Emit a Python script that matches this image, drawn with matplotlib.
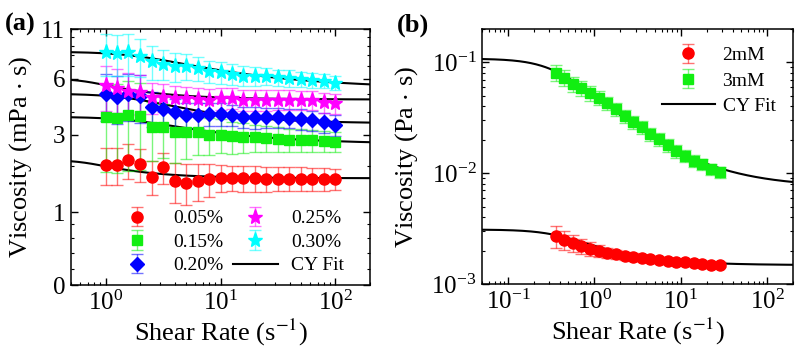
"""Viscosity vs shear rate, two panels with CY fits."""

import numpy as np
import matplotlib
matplotlib.use('Agg')
import matplotlib.pyplot as plt
from matplotlib.ticker import FixedLocator, FixedFormatter, NullFormatter
from matplotlib import rcParams

rcParams['font.family'] = 'serif'
rcParams['font.serif'] = ['Liberation Serif', 'DejaVu Serif']
rcParams['mathtext.fontset'] = 'stix'
rcParams['xtick.direction'] = 'in'
rcParams['ytick.direction'] = 'in'
rcParams['xtick.top'] = True
rcParams['ytick.right'] = True
rcParams['axes.linewidth'] = 1.1

# ---- panel (a) data ----
rate_a = [1.0, 1.26, 1.58, 2.0, 2.51, 3.16, 3.98, 5.01, 6.31, 7.94, 10.0,
          12.6, 15.8, 20.0, 25.1, 31.6, 39.8, 50.1, 63.1, 79.4, 100.0]
conc_labels = ['0.05%', '0.15%', '0.20%', '0.25%', '0.30%']
visc_005 = [2.02, 2.02, 2.15, 2.05, 1.72, 1.95, 1.62, 1.58, 1.62, 1.66, 1.69,
            1.69, 1.68, 1.68, 1.67, 1.67, 1.67, 1.67, 1.67, 1.66, 1.66]
visc_015 = [3.72, 3.70, 3.86, 3.78, 3.32, 3.32, 3.08, 3.08, 3.10, 3.00, 3.00,
            2.93, 2.92, 2.90, 2.87, 2.84, 2.81, 2.80, 2.79, 2.77, 2.74]
visc_020 = [4.95, 4.82, 4.95, 4.85, 4.22, 4.13, 3.96, 3.86, 3.86, 3.90, 3.90,
            3.85, 3.75, 3.72, 3.72, 3.72, 3.70, 3.65, 3.60, 3.50, 3.40]
visc_025 = [5.53, 5.33, 5.14, 5.08, 4.80, 4.80, 4.72, 4.72, 4.68, 4.65, 4.72,
            4.75, 4.62, 4.65, 4.65, 4.65, 4.65, 4.62, 4.62, 4.50, 4.44]
visc_030 = [8.30, 8.18, 8.30, 7.90, 7.43, 7.20, 7.00, 7.00, 6.85, 6.57, 6.50,
            6.37, 6.24, 6.20, 6.18, 6.10, 6.05, 5.97, 5.90, 5.85, 5.72]
err_005 = [0.50, 0.50, 0.50, 0.45, 0.40, 0.40, 0.45, 0.45, 0.42, 0.38, 0.32,
           0.30, 0.30, 0.30, 0.30, 0.28, 0.28, 0.28, 0.27, 0.27, 0.25]
err_015 = [1.90, 1.90, 2.00, 1.90, 1.20, 1.10, 1.00, 0.90, 0.80, 0.70, 0.65,
           0.60, 0.55, 0.50, 0.48, 0.45, 0.42, 0.40, 0.38, 0.36, 0.34]
err_020 = [1.40, 1.40, 1.40, 1.40, 0.90, 0.80, 0.70, 0.60, 0.60, 0.55, 0.55,
           0.50, 0.50, 0.50, 0.48, 0.48, 0.46, 0.46, 0.45, 0.45, 0.45]
err_025 = [1.50, 1.40, 1.30, 1.20, 0.90, 0.80, 0.75, 0.70, 0.70, 0.65, 0.65,
           0.62, 0.60, 0.60, 0.60, 0.58, 0.58, 0.56, 0.55, 0.55, 0.55]
err_030 = [2.10, 2.00, 2.10, 1.80, 1.50, 1.30, 1.20, 1.10, 1.00, 0.90, 0.85,
           0.80, 0.75, 0.70, 0.65, 0.60, 0.60, 0.55, 0.55, 0.50, 0.50]
# CY fit parameters per concentration: eta0, eta_inf, lambda, a, n
cy_a = [(2.15, 1.68, 1.5, 4.0, 0.0),
        (3.75, 2.65, 0.5, 2.0, 0.4),
        (5.00, 3.45, 0.5, 2.0, 0.2),
        (6.00, 4.65, 1.5, 4.0, 0.1),
        (8.35, 5.30, 0.5, 2.0, 0.5)]

# ---- panel (b) data ----
rate_b = [0.355, 0.447, 0.562, 0.708, 0.891, 1.12, 1.41, 1.78, 2.24, 2.82,
          3.55, 4.47, 5.62, 7.08, 8.91, 11.2, 14.1, 17.8, 22.4, 28.2]
visc_2mm = [0.00273, 0.00251, 0.00236, 0.00222, 0.00208, 0.00199, 0.00191,
            0.00185, 0.00180, 0.00176, 0.00172, 0.00169, 0.00164, 0.00160,
            0.00158, 0.00157, 0.00155, 0.00152, 0.00150, 0.00150]
visc_3mm = [0.081, 0.073, 0.064, 0.059, 0.053, 0.048, 0.043, 0.038, 0.033,
            0.029, 0.026, 0.0226, 0.0204, 0.0180, 0.0158, 0.0143, 0.0129,
            0.0121, 0.0109, 0.0102]
err_2mm = [0.0006, 0.0005, 0.0004, 0.00035, 0.0003, 0.00025, 0.0002, 0.00018,
           0.00015, 0.00013, 0.00012, 0.0001, 0.0001, 0.00009, 0.00009,
           0.00008, 0.00008, 0.00008, 0.00007, 0.00007]
err_3mm = [0.013, 0.012, 0.010, 0.009, 0.008, 0.007, 0.006, 0.005, 0.0045,
           0.004, 0.0035, 0.003, 0.0027, 0.0024, 0.002, 0.0018, 0.0016,
           0.0014, 0.0012, 0.0011]
cy_2mm = (0.0031, 0.00148, 2.5, 2.0, 0.2)
cy_3mm = (0.108, 0.0075, 3.0, 2.0, 0.25)


def carreau_yasuda(g, eta0, einf, lam, a, n):
    return einf + (eta0 - einf) * (1 + (lam * g) ** a) ** ((n - 1) / a)


fig = plt.figure(figsize=(7.97, 3.56), dpi=100)
axa = fig.add_axes([0.0891, 0.1994, 0.3752, 0.719])
axb = fig.add_axes([0.6048, 0.2022, 0.3902, 0.7163])

colors_a = ['#ff0000', '#11ee11', '#0000ff', '#ff00ff', '#00ffff']
markers_a = ['o', 's', 'D', '*', '*']
msizes_a = [8, 7, 7, 11, 11]
series_a = [visc_005, visc_015, visc_020, visc_025, visc_030]
errs_a = [err_005, err_015, err_020, err_025, err_030]

# ---- panel (a) ----
axa.set_xscale('log')
axa.set_yscale('asinh', linear_width=1.0)
axa.set_xlim(0.5, 200)
axa.set_ylim(0, 11)
gfit = np.logspace(np.log10(0.5), np.log10(200), 300)

handles = []
for vals, errs, c, m, ms, lab in zip(series_a, errs_a, colors_a, markers_a,
                                      msizes_a, conc_labels):
    h = axa.errorbar(rate_a, vals, yerr=errs, fmt=m, color=c, ms=ms,
                     mec=c, ecolor=c, elinewidth=1.0, capsize=4, capthick=1.0,
                     label=lab, zorder=4)
    for art in h[1] + h[2]:
        art.set_alpha(0.55)
    handles.append(h)
fit_line = None
for p in cy_a:
    fit_line, = axa.plot(gfit, carreau_yasuda(gfit, *p), color='black', lw=1.5,
                         zorder=3, label='CY Fit')

axa.yaxis.set_major_locator(FixedLocator([0, 1, 3, 6, 11]))
axa.yaxis.set_major_formatter(FixedFormatter(['0', '1', '3', '6', '11']))
axa.yaxis.set_minor_locator(FixedLocator([0.2, 0.4, 0.6, 0.8, 2, 4, 5, 7, 8, 9, 10]))
axa.yaxis.set_minor_formatter(NullFormatter())
axa.tick_params(which='major', length=5, width=1.0, labelsize=18, pad=4)
axa.tick_params(which='minor', length=2.5, width=0.8)
axa.set_ylabel(r'Viscosity (mPa $\cdot$ s)', fontsize=19)
axa.set_xlabel(r'Shear Rate (s$^{-1}$)', fontsize=19)
axa.yaxis.set_label_coords(-0.125, 0.5)
axa.xaxis.set_label_coords(0.5, -0.125)

leg_handles = handles[:3] + handles[3:] + [fit_line]
leg_labels = conc_labels + ['CY Fit']
axa.legend(leg_handles, leg_labels, ncol=2, loc='lower left',
           bbox_to_anchor=(0.11, 0.0), frameon=False, fontsize=14,
           handlelength=2.3, handletextpad=0.7, columnspacing=0.5,
           labelspacing=0.3, borderaxespad=0.15)

# ---- panel (b) ----
axb.set_xscale('log')
axb.set_yscale('log')
axb.set_xlim(0.05, 200)
axb.set_ylim(1e-3, 0.2)
gfit_b = np.logspace(np.log10(0.05), np.log10(200), 300)

hb1 = axb.errorbar(rate_b, visc_2mm, yerr=err_2mm, fmt='o', color='#ff0000',
                   ms=8, ecolor='#ff0000', elinewidth=1.0, capsize=4,
                   capthick=1.0, label='2mM', zorder=4)
hb2 = axb.errorbar(rate_b, visc_3mm, yerr=err_3mm, fmt='s', color='#11ee11',
                   ms=7, ecolor='#11ee11', elinewidth=1.0, capsize=4,
                   capthick=1.0, label='3mM', zorder=4)
for h in (hb1, hb2):
    for art in h[1] + h[2]:
        art.set_alpha(0.55)
axb.plot(gfit_b, carreau_yasuda(gfit_b, *cy_2mm), color='black', lw=1.5, zorder=3)
fb, = axb.plot(gfit_b, carreau_yasuda(gfit_b, *cy_3mm), color='black', lw=1.5,
               zorder=3, label='CY Fit')
axb.tick_params(which='major', length=5, width=1.0, labelsize=18, pad=4)
axb.tick_params(which='minor', length=2.5, width=0.8)
axb.set_ylabel(r'Viscosity (Pa $\cdot$ s)', fontsize=19)
axb.set_xlabel(r'Shear Rate (s$^{-1}$)', fontsize=19)
axb.yaxis.set_label_coords(-0.2, 0.5)
axb.xaxis.set_label_coords(0.5, -0.125)
axb.legend([hb1, hb2, fb], ['2mM', '3mM', 'CY Fit'], loc='upper right',
           frameon=False, fontsize=14, handlelength=2.7, handletextpad=0.4,
           labelspacing=0.4, borderaxespad=0.5)

fig.text(0.025, 0.93, '(a)', fontsize=19, fontweight='bold', ha='center', va='center')
fig.text(0.518, 0.93, '(b)', fontsize=19, fontweight='bold', ha='center', va='center')

fig.savefig('out.png', dpi=100, facecolor='white')
